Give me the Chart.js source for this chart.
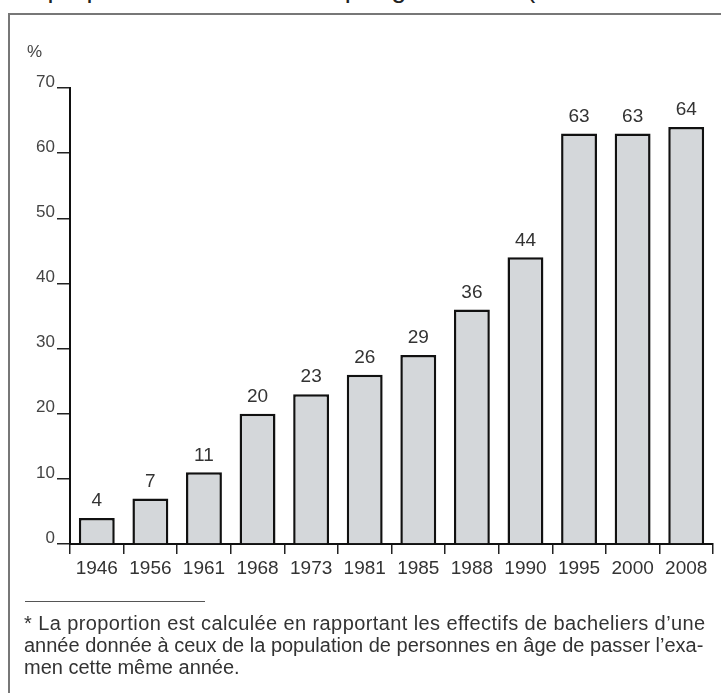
<!DOCTYPE html>
<html lang="fr">
<head>
<meta charset="utf-8">
<script src="https://cdn.jsdelivr.net/npm/chart.js@4/dist/chart.umd.min.js"></script>
<style>
    html, body { margin: 0; padding: 0; background: #fff; }
    body { width: 721px; height: 693px; position: relative; overflow: hidden; font-family: "Liberation Sans", Arial, sans-serif; color: #333; }
    .top-line { position: absolute; left: 0; top: 0; width: 721px; height: 5px; overflow: hidden; }
    .top-line span { position: absolute; left: 10px; top: -25px; font-size: 27px; line-height: 27px; white-space: nowrap; color: #222; }
    .frame { position: absolute; left: 8px; top: 13px; width: 800px; height: 800px; border: 2px solid #777; }
    #chart-wrap { position: absolute; left: 0; top: 0; width: 721px; height: 693px; }
    .unit { position: absolute; left: 27px; top: 42px; font-family: "Liberation Sans", Arial, sans-serif; font-size: 17px; color: #444; }
    .rule { position: absolute; left: 25px; top: 601px; width: 180px; height: 0; border-top: 1.5px solid #555; }
    .note { position: absolute; left: 24px; top: 612px; font-size: 20px; line-height: 22px; color: #333; white-space: nowrap; }
    .note .l1 { letter-spacing: 0.4px; }
</style>
</head>
<body>
<div class="top-line"><span>La proportion de bacheliers par génération (en % de toute la population)</span></div>
<div class="frame"></div>
<div id="chart-wrap"><canvas id="bac-chart" width="721" height="693"></canvas></div>
<div class="unit">%</div>
<div class="rule"></div>
<div class="note"><div class="l1">* La proportion est calculée en rapportant les effectifs de bacheliers d’une</div><div>année donnée à ceux de la population de personnes en âge de passer l’exa-</div><div>men cette même année.</div></div>

<script>
// Données
const annees = ['1946', '1956', '1961', '1968', '1973', '1981', '1985', '1988', '1990', '1995', '2000', '2008'];
const proportions = [4, 7, 11, 20, 23, 26, 29, 36, 44, 63, 63, 64];
const yMin = 0;
const yMax = 70;
const yStep = 10;

const axisFont = '"Liberation Sans", Arial, sans-serif';

// Valeurs au-dessus des barres
const valueLabels = {
    id: 'valueLabels',
    afterDatasetsDraw(chart) {
        const ctx = chart.ctx;
        const meta = chart.getDatasetMeta(0);
        ctx.save();
        ctx.font = '19px ' + axisFont;
        ctx.fillStyle = '#333';
        ctx.textAlign = 'center';
        ctx.textBaseline = 'middle';
        meta.data.forEach((bar, i) => {
            ctx.fillText(String(proportions[i]), bar.x, bar.y - 17);
        });
        ctx.restore();
    }
};

const ctx = document.getElementById('bac-chart');

new Chart(ctx, {
    type: 'bar',
    data: {
        labels: annees,
        datasets: [{
            data: proportions,
            backgroundColor: '#d4d7da',
            borderColor: '#111',
            borderWidth: 2.5,
            barPercentage: 0.67,
            categoryPercentage: 1
        }]
    },
    options: {
        responsive: false,
        animation: false,
        devicePixelRatio: 1,
        layout: {
            padding: { top: 88, right: 8, left: 0, bottom: 0 }
        },
        plugins: {
            legend: { display: false },
            tooltip: { enabled: false }
        },
        scales: {
            x: {
                afterFit: (scale) => { scale.height = 149; },
                border: { display: true, color: '#111', width: 2 },
                grid: {
                    offset: true,
                    drawOnChartArea: false,
                    drawTicks: true,
                    tickLength: 10,
                    color: '#222',
                    lineWidth: 1.5
                },
                ticks: {
                    color: '#333',
                    padding: 3,
                    maxRotation: 0,
                    minRotation: 0,
                    autoSkip: false,
                    font: { family: axisFont, size: 19 }
                }
            },
            y: {
                min: yMin,
                max: yMax,
                afterFit: (scale) => { scale.width = 70; },
                border: { display: true, color: '#111', width: 2 },
                grid: {
                    drawOnChartArea: false,
                    drawTicks: true,
                    tickLength: 13,
                    color: '#222',
                    lineWidth: 1.5
                },
                ticks: {
                    stepSize: yStep,
                    color: '#444',
                    padding: 2,
                    labelOffset: -6,
                    font: { family: axisFont, size: 17 }
                }
            }
        }
    },
    plugins: [valueLabels]
});
</script>
</body>
</html>
